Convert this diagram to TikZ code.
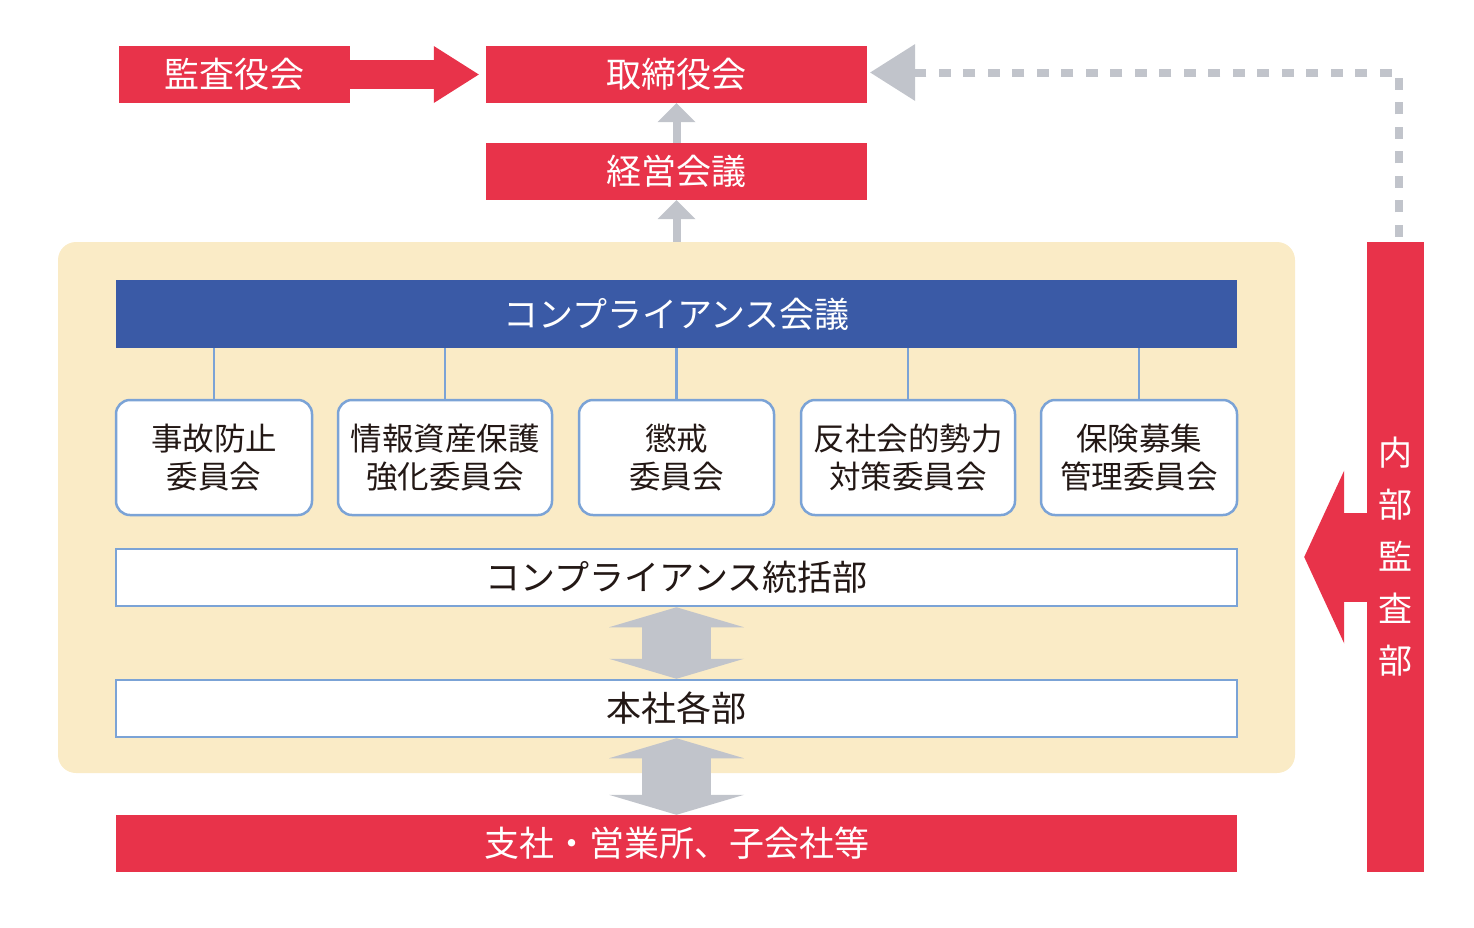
\documentclass[tikz,border=0pt]{standalone}
\usepackage{fontspec}
\newfontfamily\jp{Noto Sans CJK JP}
\usetikzlibrary{arrows.meta}
\definecolor{kred}{HTML}{E8334A}
\definecolor{kblue}{HTML}{3A5AA6}
\definecolor{kline}{HTML}{7BA3D6}
\definecolor{kcream}{HTML}{FAEBC6}
\definecolor{kgray}{HTML}{C1C4CB}
\definecolor{ktext}{HTML}{231815}
\tikzset{
  redbox/.style={fill=kred, text=white, inner sep=0pt, minimum height=57pt,
    font=\jp\fontsize{35}{40}\selectfont
  },
  whitebox/.style={draw=kline, line width=2.5pt, fill=white, text=ktext, inner sep=0pt,
    minimum width=1121pt, minimum height=57pt, font=\jp\fontsize{35}{40}\selectfont
  },
  combox/.style={draw=kline, line width=2.5pt, fill=white, rounded corners=14pt, text=ktext,
    align=center, inner sep=0pt, minimum height=115pt, font=\jp\fontsize{31.5}{38}\selectfont
  },
  grayarrow/.style={kgray, line width=8pt, -{Triangle[width=38pt, length=19pt, line width=0pt]}
  },
  dblarrow/.style={kgray, line width=69pt,
    {Triangle[width=135pt, length=20pt, line width=0pt]}-{Triangle[width=135pt, length=20pt, line width=0pt]}
  }
}
\begin{document}
\begin{tikzpicture}[x=1pt, y=-1pt]
 \useasboundingbox (0,0) rectangle (1474,927);
 \node[fill=kcream, rounded corners=18pt, minimum width=1237pt, minimum height=531pt] (bg) at (676.5,507.5) {};

 \node[redbox, minimum width=231pt] (kansa) at (234.5,74.5) {監査役会};
 \node[redbox, minimum width=381pt] (torishimari) at (676.5,74.5) {取締役会};
 \node[redbox, minimum width=381pt] (keiei) at (676.5,171.5) {経営会議};
 \node[fill=kblue, text=white, inner sep=0pt, minimum width=1121pt, minimum height=68pt,
   font=\jp\fontsize{35}{40}\selectfont] (comp) at (676.5,314) {コンプライアンス会議};

 \foreach \n/\x/\w/\txt in {jiko/214/196/{事故防止\\委員会}, joho/445/214/{情報資産保護\\強化委員会},
   chokai/676.5/195/{懲戒\\委員会}, hansha/908/214/{反社会的勢力\\対策委員会},
   hoken/1139/196/{保険募集\\管理委員会}} {
   \node[combox, minimum width=\w pt] (\n) at (\x,457.5) {\txt};
   \draw[kline, line width=2.5pt] (comp.south -| \n) -- (\n);
 }

 \node[whitebox] (tokatsu) at (676.5,577.5) {コンプライアンス統括部};
 \node[whitebox] (honsha) at (676.5,708.5) {本社各部};
 \node[redbox, minimum width=1121pt] (shisha) at (676.5,843.5) {支社・営業所、子会社等};
 \node[redbox, minimum width=57pt, minimum height=630pt, align=center,
   font=\jp\fontsize{34}{52}\selectfont] (naibu) at (1395.5,557) {内\\部\\監\\査\\部};

 \draw[kred, line width=29pt, -{Triangle[width=57pt, length=45pt, line width=0pt]}, shorten >=7pt] (kansa) -- (torishimari);
 \draw[grayarrow] (keiei) -- (torishimari);
 \draw[grayarrow] (bg.north) -- (keiei);
 \draw[dblarrow] (tokatsu) -- (honsha);
 \draw[dblarrow] (honsha) -- (shisha);
 \draw[kred, line width=89pt, -{Triangle[width=173pt, length=40pt, line width=0pt]}, shorten >=9pt] (naibu.west) -- (naibu.west -| bg.east);
 \draw[kgray, line width=8pt, dash pattern=on 12pt off 12.5pt, shorten <=5pt, shorten >=3pt,
   -{Triangle[width=57pt, length=45pt, line width=0pt]}] ([xshift=3.5pt]naibu.north) |- ([yshift=2pt]torishimari.east);
\end{tikzpicture}
\end{document}
